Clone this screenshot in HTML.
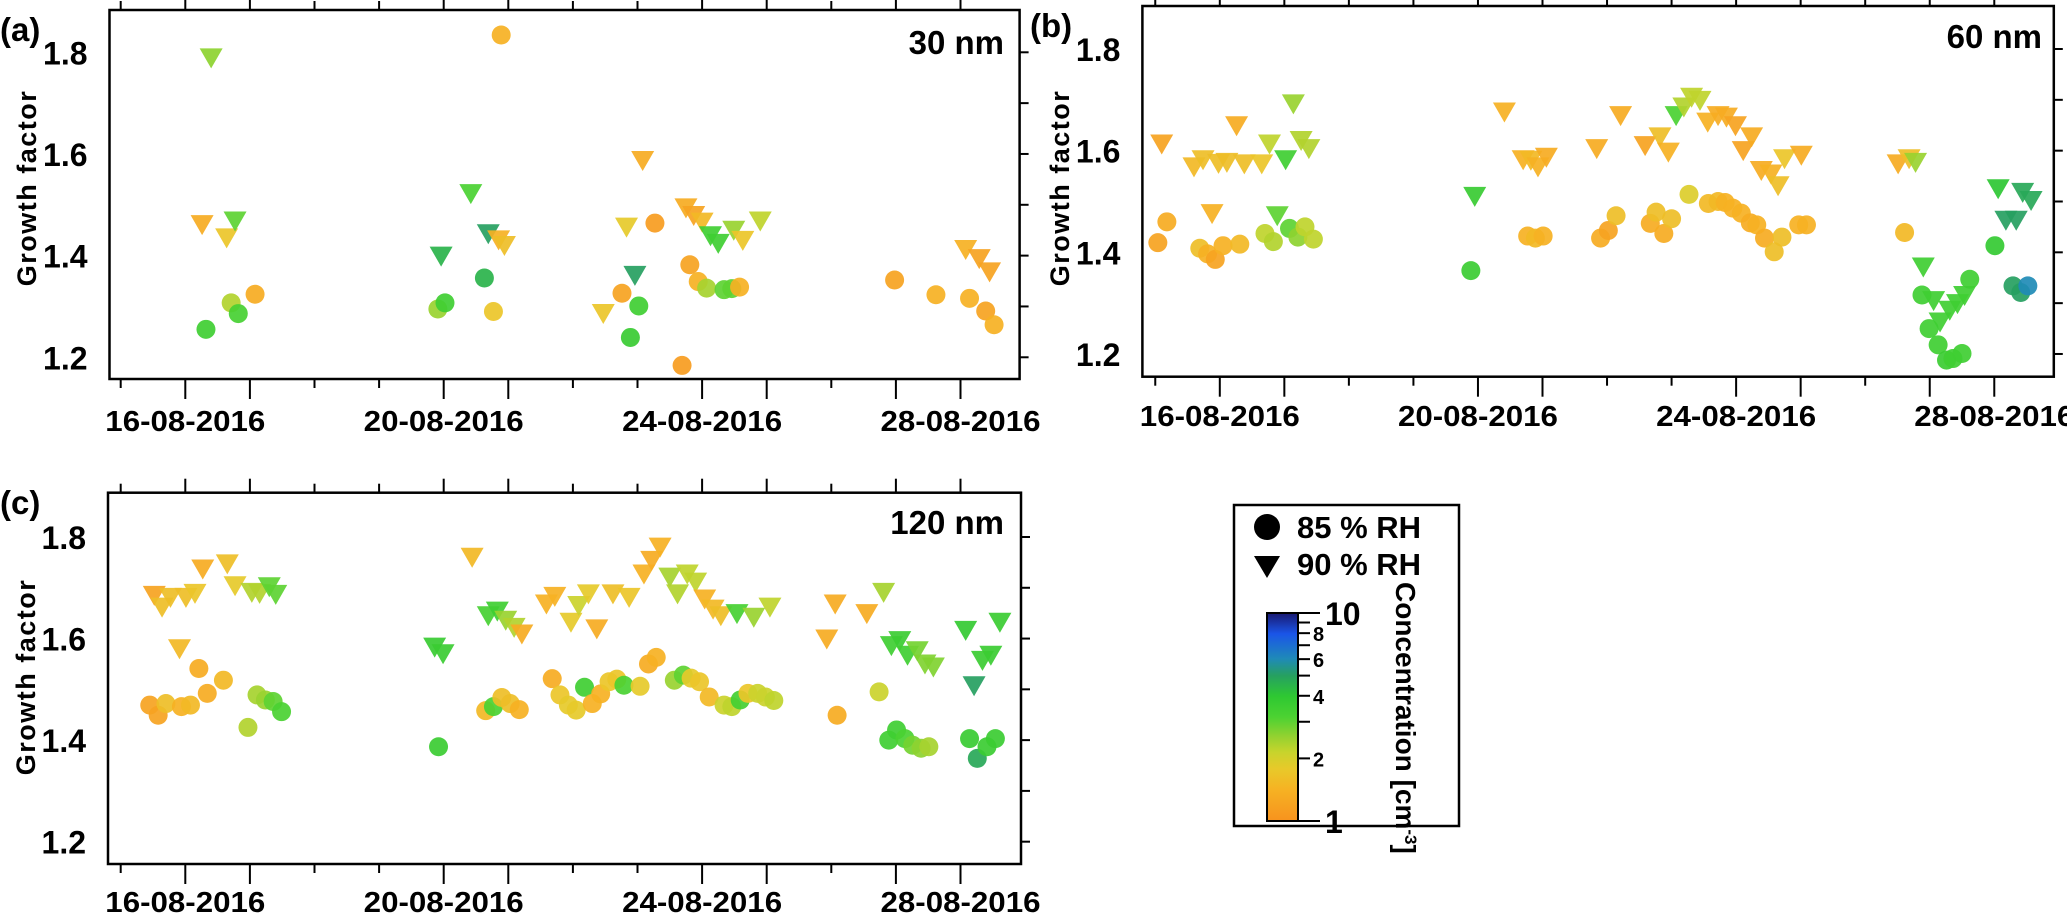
<!DOCTYPE html>
<html><head><meta charset="utf-8"><style>
html,body{margin:0;padding:0;background:#fff;}
svg{display:block;font-family:"Liberation Sans",Arial,sans-serif;font-weight:bold;}
</style></head><body>
<svg id="fig" width="2067" height="915" viewBox="0 0 2067 915" xmlns="http://www.w3.org/2000/svg">
<defs>
<linearGradient id="cbar" x1="0" y1="1" x2="0" y2="0">
<stop offset="0" stop-color="#f7931e"/><stop offset="0.15" stop-color="#f6b223"/><stop offset="0.25" stop-color="#e8c92a"/><stop offset="0.33" stop-color="#c8d42c"/><stop offset="0.4" stop-color="#98d230"/><stop offset="0.5" stop-color="#4cd232"/><stop offset="0.6" stop-color="#2ec832"/><stop offset="0.7" stop-color="#26a061"/><stop offset="0.78" stop-color="#1f8ab8"/><stop offset="0.9" stop-color="#1a55e8"/><stop offset="1" stop-color="#191970"/>
</linearGradient>
</defs>
<g id="legend">
<rect x="1234" y="505" width="225" height="321" fill="none" stroke="#000" stroke-width="2.5"/>
<circle cx="1267" cy="527" r="13" fill="#000"/>
<text x="1297" y="538" font-size="31">85 % RH</text>
<polygon points="1254,556 1280,556 1267,578" fill="#000"/>
<text x="1297" y="575" font-size="31">90 % RH</text>
<rect x="1267" y="613" width="31" height="208" fill="url(#cbar)" stroke="#000" stroke-width="2"/>
<g id="cbticks"></g>
<text transform="translate(1396,582) rotate(90)" font-size="28">Concentration [cm<tspan font-size="17" baseline-shift="super">-3</tspan>]</text>
</g>
</svg>
<script>
// ---------- data (day of August 2016, growth factor, concentration cm-3) ----------
const dateTickLabels = ["16-08-2016","20-08-2016","24-08-2016","28-08-2016"];
const dateTickDays = [16,20,24,28];
const gfTicks = [1.2,1.4,1.6,1.8];
const gfMinorTicks = [1.3,1.5,1.7];
const cbarTicks = [1,2,3,4,5,6,7,8,9,10];
const cbarLabels = ["1","2","","4","","6","","8","","10"];

const aTriDay = [16.40,16.26,16.64,16.77,20.42,19.96,20.69,20.85,20.94,22.47,22.83,23.08,22.96,23.75,23.87,24.00,24.13,24.25,24.49,24.63,24.90,28.08,28.29,28.45];
const aTriGF  = [1.79,1.462,1.436,1.469,1.523,1.40,1.444,1.432,1.421,1.287,1.457,1.588,1.362,1.495,1.48,1.467,1.44,1.425,1.451,1.431,1.469,1.413,1.395,1.369];
const aTriC   = [2.6,1.3,1.7,3,3.2,4.5,5,1.4,1.6,1.7,1.8,1.3,5,1.3,1.2,1.5,3.5,3.5,2.5,1.7,2.2,1.4,1.2,1.2];
const aCirDay = [20.89,16.32,16.71,16.82,17.08,19.91,20.02,20.63,20.77,22.76,23.02,22.89,23.27,23.69,23.81,23.94,24.07,24.34,24.46,24.58,26.98,27.62,28.14,28.39,28.52];
const aCirGF  = [1.834,1.255,1.307,1.286,1.324,1.295,1.307,1.356,1.29,1.326,1.301,1.239,1.464,1.184,1.382,1.349,1.336,1.333,1.335,1.338,1.352,1.323,1.316,1.291,1.264];
const aCirC   = [1.4,3.5,2.3,3.3,1.3,2.5,3.5,4.5,1.7,1.2,3.5,3.7,1.1,1.1,1.2,1.4,2.4,3,3,1.4,1.2,1.4,1.4,1.2,1.4];

const bTriDay = [15.10,15.60,15.74,15.88,15.98,16.11,16.26,16.38,16.65,16.77,16.89,17.02,17.14,17.26,17.38,19.95,20.41,20.70,20.82,20.93,21.06,21.84,22.21,22.59,22.82,22.95,23.07,23.19,23.31,23.44,23.56,23.72,23.85,23.99,24.11,24.24,24.39,24.54,24.65,24.75,25.01,26.51,26.68,26.78,26.90,27.06,27.16,27.31,27.43,27.54,28.06,28.18,28.34,28.44,28.57];
const bTriGF  = [1.614,1.569,1.583,1.477,1.576,1.578,1.650,1.575,1.575,1.614,1.473,1.583,1.693,1.621,1.605,1.511,1.677,1.583,1.582,1.569,1.588,1.605,1.670,1.611,1.628,1.598,1.670,1.687,1.706,1.700,1.657,1.670,1.667,1.650,1.601,1.628,1.562,1.555,1.532,1.585,1.592,1.575,1.585,1.578,1.372,1.306,1.264,1.287,1.300,1.316,1.526,1.464,1.464,1.519,1.503];
const bTriC   = [1.2,1.5,1.6,1.4,1.6,1.6,1.3,1.6,1.7,2.2,3,3.5,2.5,2.3,2.3,3.7,1.4,1.4,1.5,1.4,1.3,1.3,1.3,1.2,1.6,1.4,3.2,2.3,2.2,2.2,1.4,1.3,1.3,1.2,1.2,1.3,1.3,1.4,1.6,1.7,1.3,1.3,1.6,2.5,3.5,3.5,3.5,3.5,3.5,3.5,4,5,5,4.8,4.8];
const bCirDay = [15.04,15.18,15.69,15.81,15.93,16.05,16.31,16.70,16.83,17.08,17.21,17.32,17.45,19.89,20.77,20.89,21.01,21.90,22.02,22.14,22.67,22.76,22.88,23.00,23.27,23.57,23.72,23.83,23.95,24.08,24.22,24.32,24.44,24.59,24.71,24.97,25.09,26.61,26.88,26.99,27.13,27.26,27.36,27.50,27.62,28.01,28.29,28.41,28.52];
const bCirGF  = [1.419,1.460,1.408,1.397,1.386,1.413,1.416,1.437,1.421,1.447,1.430,1.450,1.426,1.364,1.432,1.428,1.432,1.428,1.443,1.472,1.457,1.479,1.437,1.466,1.514,1.496,1.500,1.498,1.487,1.477,1.458,1.454,1.428,1.401,1.430,1.454,1.454,1.439,1.316,1.250,1.218,1.188,1.191,1.201,1.347,1.413,1.334,1.321,1.334];
const bCirC   = [1.2,1.3,1.6,1.4,1.2,1.4,1.5,2.2,2.3,3,2.6,2.2,2.2,3.6,1.4,1.5,1.4,1.3,1.2,1.6,1.3,1.6,1.3,1.6,1.9,1.5,1.5,1.4,1.4,1.4,1.3,1.4,1.3,1.6,1.6,1.4,1.4,1.5,3.5,3.5,3.5,3.6,3.5,3.5,3.5,3.8,5,5,6];

const cTriDay = [15.52,15.64,15.77,16.01,16.15,16.27,15.91,16.65,16.77,17.03,17.15,17.30,17.40,19.86,19.99,20.44,20.69,20.83,20.96,21.09,21.21,21.59,21.72,21.97,22.09,22.24,22.37,22.62,22.87,23.10,23.22,23.35,23.50,23.62,23.77,23.90,24.04,24.17,24.29,24.54,24.80,25.05,25.93,26.06,26.55,26.81,26.93,27.06,27.18,27.33,27.45,27.58,28.08,28.21,28.34,28.47,28.61];
const cTriGF  = [1.686,1.663,1.682,1.682,1.690,1.738,1.581,1.748,1.705,1.692,1.690,1.703,1.688,1.584,1.571,1.761,1.646,1.655,1.637,1.623,1.610,1.669,1.684,1.633,1.666,1.689,1.620,1.689,1.682,1.728,1.755,1.781,1.722,1.689,1.728,1.712,1.679,1.659,1.646,1.650,1.643,1.663,1.600,1.669,1.650,1.692,1.587,1.597,1.568,1.577,1.551,1.545,1.617,1.508,1.558,1.568,1.633];
const cTriC   = [1.2,1.6,1.6,1.6,1.7,1.3,1.5,1.6,1.8,2.3,2.3,3,3,3.7,3.6,1.5,3.3,3.5,2.5,2.3,1.3,1.4,1.4,1.8,2.1,1.8,1.3,1.6,1.7,1.4,1.3,1.4,2.4,2.3,2.2,2.2,1.4,1.5,1.6,3.3,2.5,2.2,1.3,1.3,1.3,2.4,3.5,3.6,3.5,2.8,2.7,2.7,3.8,5,3.6,3.6,3.6];
const cCirDay = [15.45,15.58,15.70,15.94,16.08,16.21,16.34,16.59,16.97,17.11,17.24,17.36,17.49,19.92,20.65,20.77,20.90,21.03,21.17,21.68,21.80,21.93,22.05,22.18,22.30,22.43,22.56,22.68,22.79,23.04,23.17,23.29,23.57,23.71,23.83,23.96,24.11,24.34,24.46,24.59,24.71,24.86,24.98,25.11,26.09,26.74,26.89,27.01,27.14,27.26,27.39,27.51,28.14,28.26,28.41,28.54];
const cCirGF  = [1.469,1.449,1.472,1.466,1.469,1.541,1.492,1.518,1.425,1.489,1.479,1.476,1.456,1.387,1.458,1.466,1.484,1.472,1.460,1.521,1.489,1.469,1.459,1.504,1.472,1.491,1.515,1.520,1.508,1.506,1.550,1.563,1.518,1.528,1.522,1.515,1.485,1.469,1.466,1.479,1.492,1.492,1.485,1.478,1.449,1.495,1.400,1.420,1.403,1.390,1.384,1.387,1.403,1.364,1.387,1.403];
const cCirC   = [1.2,1.2,1.6,1.4,1.5,1.3,1.3,1.5,2.3,2.4,2.5,3,3.2,3.6,1.5,3.2,1.6,1.6,1.4,1.3,1.7,1.8,1.8,3.5,1.4,1.4,1.7,1.7,3.2,1.8,1.3,1.4,2.5,3,1.8,1.7,1.5,2.1,2.2,3.4,1.7,2.1,2.1,2.2,1.3,2.1,3.5,3.5,3.2,2.8,2.6,2.4,3.7,4.8,3.6,3.6];

// ---------- rendering ----------
const NS = "http://www.w3.org/2000/svg";
const svg = document.getElementById("fig");
function mk(tag, attrs, parent){ const e=document.createElementNS(NS,tag); for(const k in attrs) e.setAttribute(k,attrs[k]); (parent||svg).appendChild(e); return e; }

const cmapStops = [[0,[247,147,30]],[0.15,[246,178,35]],[0.25,[232,201,42]],[0.33,[200,212,44]],[0.4,[152,210,48]],[0.5,[76,210,50]],[0.6,[46,200,50]],[0.7,[38,160,97]],[0.78,[31,138,184]],[0.9,[26,85,232]],[1,[25,25,112]]];
function cmap(c){
  let t=Math.max(0,Math.min(1,Math.log10(c)));
  for(let i=1;i<cmapStops.length;i++){
    if(t<=cmapStops[i][0]){
      const a=cmapStops[i-1],b=cmapStops[i],f=(t-a[0])/(b[0]-a[0]);
      const r=a[1].map((v,j)=>Math.round(v+(b[1][j]-v)*f));
      return "rgb("+r.join(",")+")";
    }
  }
  return "rgb(25,25,112)";
}

const panels = [
  {id:"a", letter:"(a)", size:"30 nm", fx0:109.5, fx1:1019.6, fy0:10, fy1:379, x16:185.3, dpx:64.6, y18:52.3, ppu:508.3, lblY:431, gfX:25, gfY:188, letterX:0, letterY:41, sizeX:1004, sizeY:54, topLen:10,
   triD:aTriDay, triG:aTriGF, triC:aTriC, cirD:aCirDay, cirG:aCirGF, cirC:aCirC},
  {id:"b", letter:"(b)", size:"60 nm", fx0:1142.4, fx1:2053.8, fy0:6, fy1:376.7, x16:1219.8, dpx:64.54, y18:49, ppu:508.3, lblY:426, gfX:1058, gfY:188, letterX:1030, letterY:37, sizeX:2042, sizeY:48, topLen:6,
   triD:bTriDay, triG:bTriGF, triC:bTriC, cirD:bCirDay, cirG:bCirGF, cirC:bCirC},
  {id:"c", letter:"(c)", size:"120 nm", fx0:108, fx1:1021, fy0:492.7, fy1:864, x16:185.3, dpx:64.6, y18:537, ppu:507.8, lblY:912, gfX:24, gfY:677, letterX:0, letterY:514, sizeX:1004, sizeY:534, topLen:14,
   triD:cTriDay, triG:cTriGF, triC:cTriC, cirD:cCirDay, cirG:cCirGF, cirC:cCirC}
];
const longTickDays=[16,17,20,21,24,25,27,28];

panels.forEach(p=>{
  const g=mk("g",{});
  
  
  const X=d=>p.x16+(d-16)*p.dpx, Y=v=>p.y18+(1.8-v)*p.ppu;
  const fr=mk("rect",{x:p.fx0,y:p.fy0,width:p.fx1-p.fx0,height:p.fy1-p.fy0,fill:"none",stroke:"#000","stroke-width":2.5},g);
  
  
  for(let d=15; d<=28; d++){
    const x=X(d), len=longTickDays.includes(d)?20:9;
    const t=mk("line",{x1:x,y1:p.fy1,x2:x,y2:p.fy1+len,stroke:"#000","stroke-width":2},g);
    
    
    const tt=mk("line",{x1:x,y1:p.fy0,x2:x,y2:Math.max(0,p.fy0-(longTickDays.includes(d)?p.topLen:Math.min(p.topLen,9))),stroke:"#000","stroke-width":2},g);
    
    
  }
  dateTickDays.forEach((d,i)=>{
    const t=mk("text",{x:X(d),y:p.lblY,"font-size":29,"text-anchor":"middle",textLength:160,lengthAdjust:"spacingAndGlyphs"},g);
    t.textContent=dateTickLabels[i];
    
    
  });
  gfTicks.concat(gfMinorTicks).forEach(v=>{
    const t=mk("line",{x1:p.fx1,y1:Y(v),x2:p.fx1+9,y2:Y(v),stroke:"#000","stroke-width":2},g);
    
    
  });
  gfTicks.forEach(v=>{
    const t=mk("text",{x:p.fx0-22,y:Y(v)+12,"font-size":32,"text-anchor":"end"},g);
    t.textContent=v.toFixed(1);
    
    
  });
  const yt=mk("text",{transform:`translate(${p.gfX+11},${p.gfY}) rotate(-90)`,"font-size":27,"text-anchor":"middle","letter-spacing":"1.5"},g);
  yt.textContent="Growth factor";
  
  
  const lt=mk("text",{x:p.letterX,y:p.letterY,"font-size":33},g);
  lt.textContent=p.letter;
  
  
  const st=mk("text",{x:p.sizeX,y:p.sizeY,"font-size":33,"text-anchor":"end"},g);
  st.textContent=p.size;
  
  
  p.cirD.forEach((d,i)=>{
    const c=mk("ellipse",{cx:X(p.cirD[i]),cy:Y(p.cirG[i]),rx:9.5,ry:9.5,fill:cmap(p.cirC[i]),"fill-opacity":0.92},g);
    
    
  });
  p.triD.forEach((d,i)=>{
    const x=X(p.triD[i]), y=Y(p.triG[i]);
    const tr=mk("polygon",{points:`${x-11.5},${y-9} ${x+11.5},${y-9} ${x},${y+11}`,fill:cmap(p.triC[i]),"fill-opacity":0.92},g);
    
    
  });
});

const cbg=document.getElementById("cbticks");
const cbY=v=>821-Math.log10(v)*208;
cbarTicks.forEach((v,i)=>{
  const major=(v===1||v===10);
  const l=mk("line",{x1:1298,y1:cbY(v),x2:major?1320:1310,y2:cbY(v),stroke:"#000","stroke-width":2},cbg);
  
  
  if(cbarLabels[i]){
    const t=mk("text",{x:major?1325:1313,y:cbY(v)+(major?12:8),"font-size":major?32:20},cbg);
    t.textContent=cbarLabels[i];
    
    
  }
});
</script>
</body></html>
